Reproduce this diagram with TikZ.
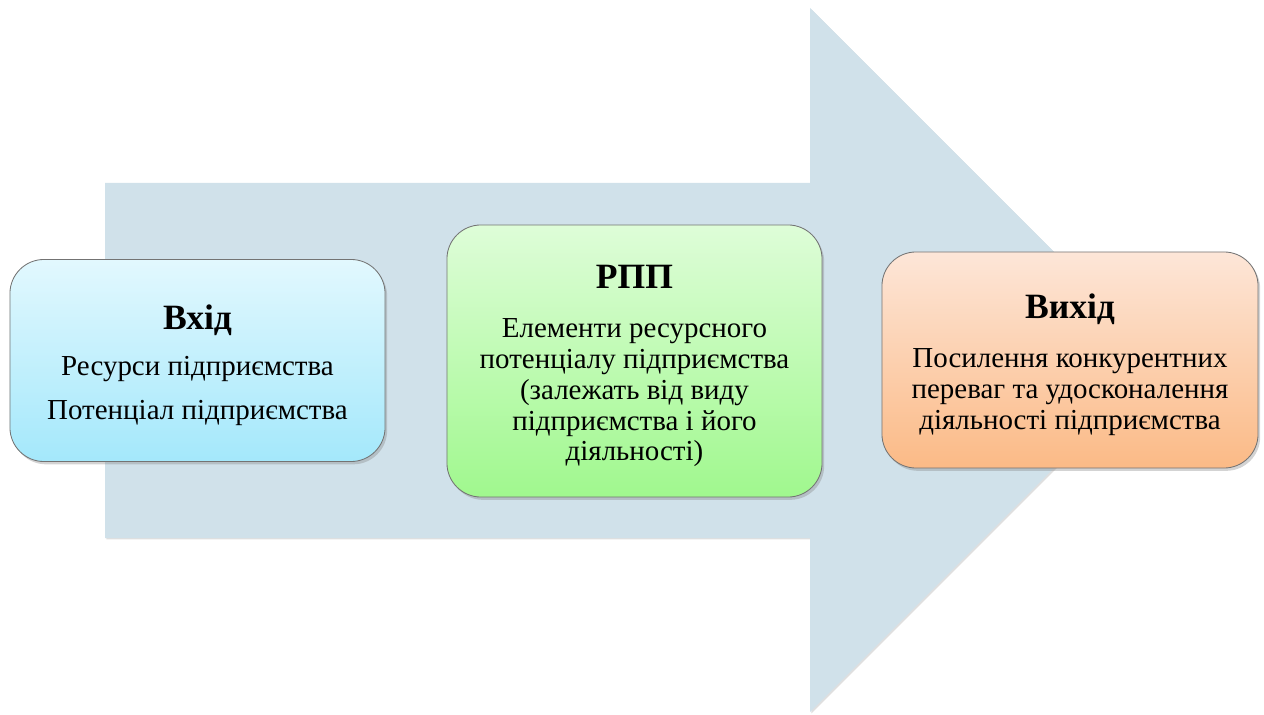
\documentclass[tikz,border=0pt]{standalone}
\usepackage{fontspec}
\setmainfont{Liberation Serif}
\usetikzlibrary{shadows}
\definecolor{arrowfill}{HTML}{D0E1EA}
\definecolor{inTop}{HTML}{E2F8FE}
\definecolor{inBot}{HTML}{A4E8FB}
\definecolor{rppTop}{HTML}{DEFDD8}
\definecolor{rppBot}{HTML}{A0F88E}
\definecolor{outTop}{HTML}{FDE6D8}
\definecolor{outBot}{HTML}{FBBA86}
\tikzset{
  stage/.style={draw=black!55, line width=0.6pt, rounded corners=0.85cm,
    align=center, font=\fontsize{20.6}{21.9}\selectfont,
    drop shadow={shadow xshift=1.5pt, shadow yshift=-2pt, opacity=0.35}}
}
\newcommand{\ttl}[1]{{\fontsize{25.3}{28}\selectfont\bfseries\rule{0pt}{24pt}#1}}
\begin{document}
\begin{tikzpicture}[x=0.025cm,y=-0.025cm]
\useasboundingbox (0,0) rectangle (1264,715);
\fill[arrowfill, drop shadow={shadow xshift=1pt, shadow yshift=-1pt, opacity=0.25}]
  (105,183) -- (810,183) -- (810,8) -- (1162,360) -- (810,712) -- (810,538) -- (105,538) -- cycle;
\node[stage, top color=inTop, bottom color=inBot, minimum width=9.375cm, minimum height=5.05cm]
  (vhid) at (197.5,360.5) {\ttl{Вхід}\\[11pt] Ресурси підприємства\\[9.4pt] Потенціал підприємства};
\node[stage, top color=rppTop, bottom color=rppBot, minimum width=9.375cm, minimum height=6.8cm]
  (rpp) at (634.5,361) {\ttl{РПП}\\[13pt] Елементи ресурсного\\ потенціалу підприємства\\ (залежать від виду\\ підприємства і його\\ діяльності)};
\node[stage, top color=outTop, bottom color=outBot, minimum width=9.4cm, minimum height=5.4cm]
  (vyhid) at (1070,360) {\ttl{Вихід}\\[13pt] Посилення конкурентних\\ переваг та удосконалення\\ діяльності підприємства};
\end{tikzpicture}
\end{document}
